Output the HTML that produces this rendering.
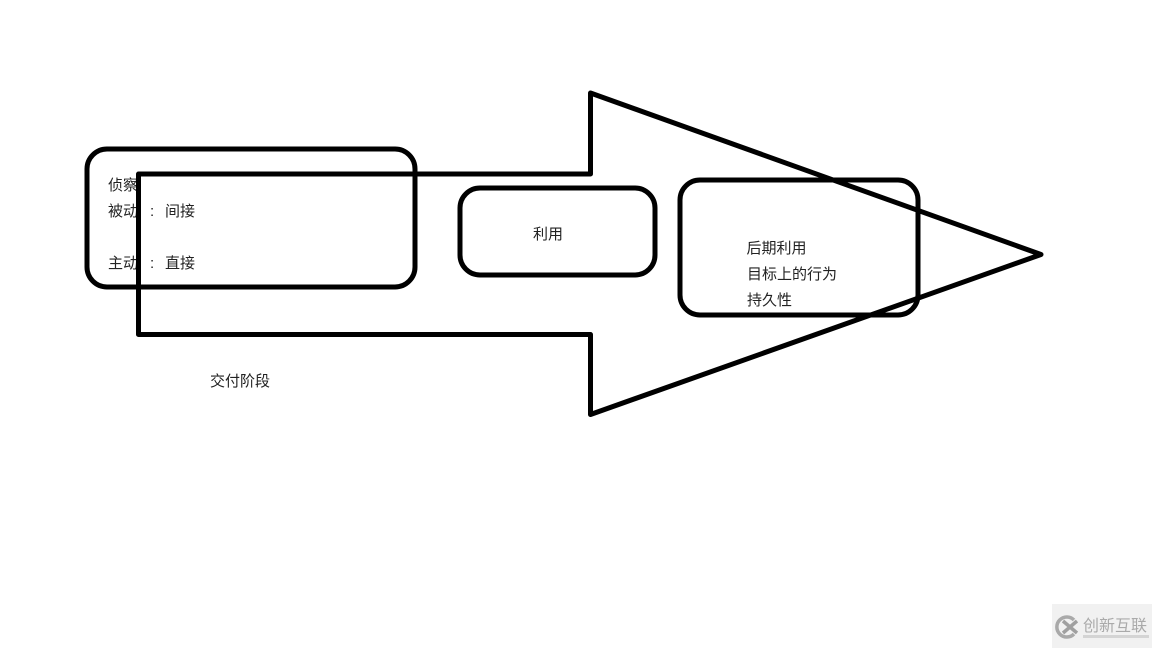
<!DOCTYPE html>
<html>
<head>
<meta charset="utf-8">
<style>
html,body{margin:0;padding:0;background:#fff;width:1152px;height:648px;overflow:hidden}
svg{display:block}
text{font-family:"Liberation Sans","Noto Sans CJK SC",sans-serif;font-size:15px;fill:#222}
</style>
</head>
<body>
<svg width="1152" height="648" viewBox="0 0 1152 648" xmlns="http://www.w3.org/2000/svg">
<rect width="1152" height="648" fill="#fff"/>
<text x="108" y="190">侦察</text>
<text x="108" y="216">被动</text>
<text x="150" y="216">:</text>
<text x="165" y="216">间接</text>
<text x="108" y="268">主动</text>
<text x="150" y="268">:</text>
<text x="165" y="268">直接</text>
<text x="533" y="239">利用</text>
<text x="746.5" y="253">后期利用</text>
<text x="747" y="279">目标上的行为</text>
<text x="747" y="305">持久性</text>
<text x="210" y="386">交付阶段</text>
<g fill="none" stroke="#000" stroke-width="5">
<rect x="87" y="149" width="328" height="138" rx="20" ry="20"/>
<rect x="460" y="188" width="195" height="87" rx="20" ry="20"/>
<rect x="680" y="180" width="238" height="135" rx="20" ry="20"/>
<polygon points="138.5,174 590.5,174 590.5,93 1041,254.5 590.5,414.5 590.5,334.5 138.5,334.5" stroke-linejoin="round"/>
</g>
<rect x="1052" y="604" width="100" height="44" fill="#f1f1f1"/>
<path d="M1074 620 A10 10 0 1 0 1074 634" fill="none" stroke="#a9a9a9" stroke-width="3.5"/>
<path d="M1063 621 L1077 633 M1077 621 L1063 633" stroke="#a0a0a0" stroke-width="3.5" fill="none"/>
<text x="1083" y="631" style="font-size:16px;fill:#aaa">创新互联</text>
<rect x="1083" y="635" width="66" height="3" fill="#d4d4d4"/>
</svg>
</body>
</html>
